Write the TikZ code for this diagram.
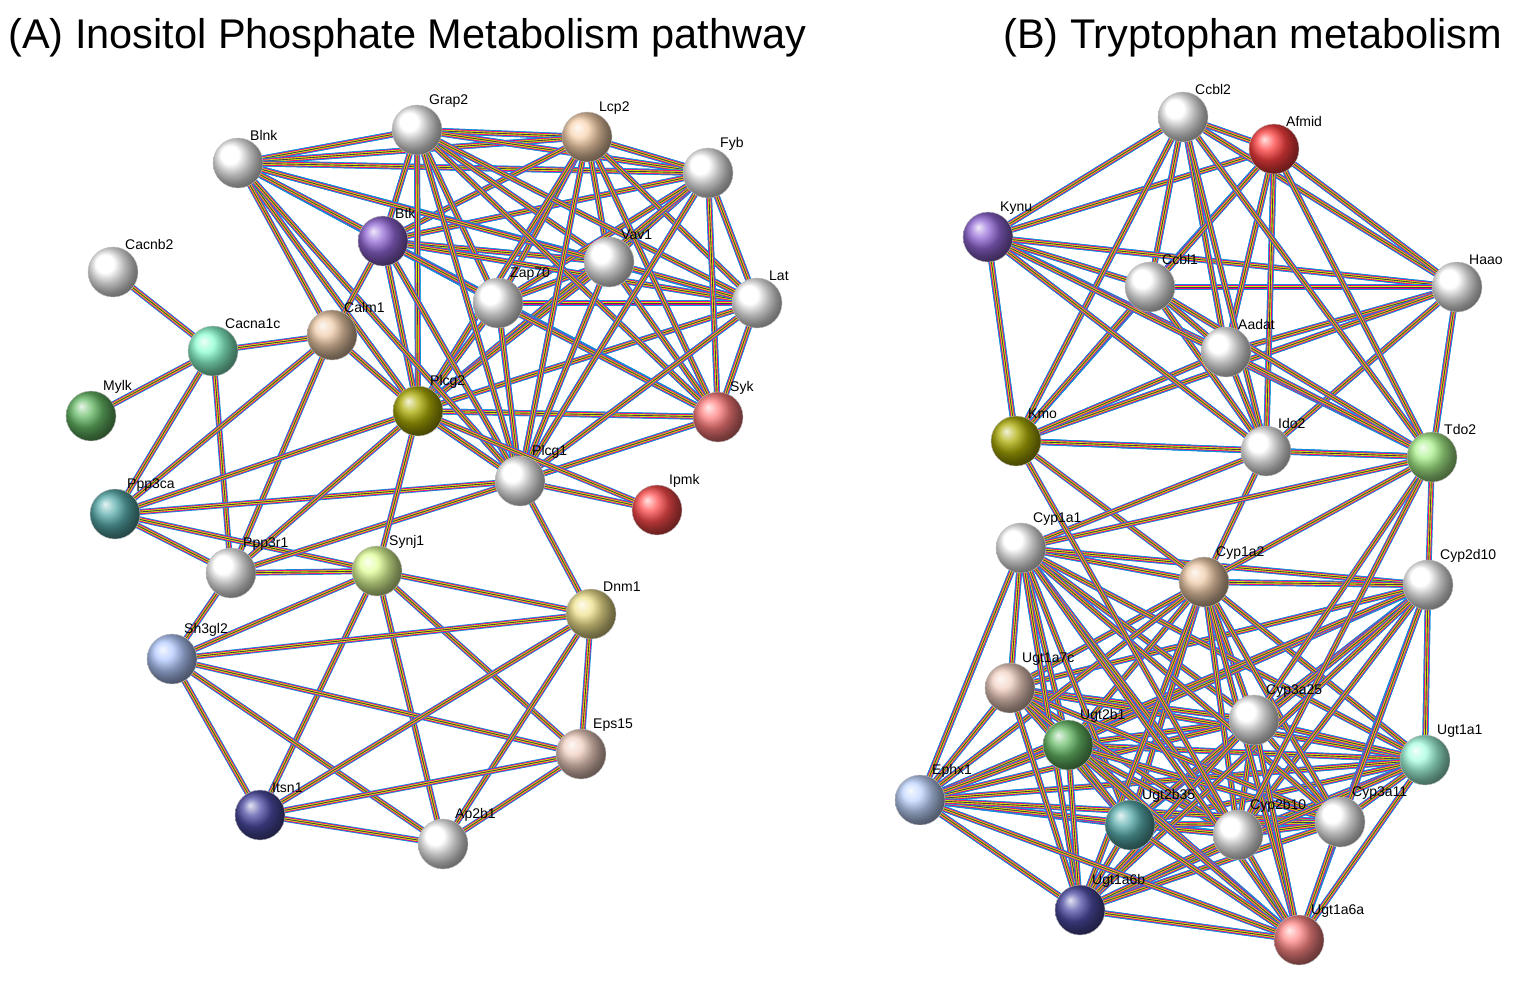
\documentclass[tikz,border=0pt]{standalone}
\usepackage{fontspec}
\setmainfont{Liberation Sans}
\begin{document}
\begin{tikzpicture}[x=1pt,y=-1pt,
 e/.style={draw=black!75,line width=0.9,
   preaction={draw=yellow!85!green,line width=2.6,
   preaction={draw=magenta,line width=4.3,
   preaction={draw=cyan!80!blue,line width=6}}}},
 ball/.style={circle,minimum size=50,inner sep=0,draw=black!25,line width=0.4},
 lab/.style={font=\fontsize{14}{14}\selectfont,anchor=south west,inner sep=0}]
\useasboundingbox (0,0) rectangle (1538,980);
\fill[white] (0,0) rectangle (1538,980);
\node[anchor=base west,inner sep=0,font=\fontsize{41.5}{41.5}\selectfont] (tA) at (8,48) {(A) Inositol Phosphate Metabolism pathway};
\node[anchor=base west,inner sep=0,font=\fontsize{41.5}{41.5}\selectfont] (tB) at (1003,48) {(B) Tryptophan metabolism};
\def\nodesA{Grap2/417/130/white,Lcp2/587/137/brown!30!orange!35,Blnk/238/163/white,Fyb/708/173/white,Btk/383/241/violet!55!blue!60,Vav1/609/262/white,Cacnb2/113/272/white,Zap70/498/303/white,Lat/757/303/white,Calm1/332/335/orange!35!brown!40,Cacna1c/213/351/green!40!cyan!45,Mylk/91/416/green!55!black!60,Plcg2/418/411/olive!65,Syk/718/417/red!35!pink,Plcg1/520/481/white,Ipmk/657/510/red!70,Ppp3ca/115/514/teal!65,Ppp3r1/231/573/white,Synj1/377/571/green!30!yellow!40,Dnm1/591/614/brown!45!yellow!50,Sh3gl2/172/659/cyan!30!blue!30,Eps15/581/754/red!25!brown!30,Itsn1/260/815/blue!50!black!70,Ap2b1/443/844/white}
\def\nodesB{Ccbl2/1183/117/white,Afmid/1274/149/red!75,Kynu/988/237/violet!55!blue!60,Ccbl1/1150/287/white,Haao/1457/287/white,Aadat/1226/352/white,Kmo/1016/441/olive!65,Ido2/1266/451/white,Tdo2/1432/457/olive!30!green!40,Cyp1a1/1021/548/white,Cyp1a2/1204/582/orange!35!brown!40,Cyp2d10/1428/585/white,Ugt1a7c/1010/688/red!25!brown!30,Cyp3a25/1254/720/white,Ugt2b1/1068/745/green!55!black!60,Ugt1a1/1425/760/green!35!cyan!35,Ephx1/920/800/cyan!35!blue!25,Ugt2b35/1130/825/teal!65,Cyp2b10/1238/835/white,Cyp3a11/1340/822/white,Ugt1a6b/1080/910/blue!50!black!70,Ugt1a6a/1299/940/red!30!pink}
\foreach \n/\x/\y/\c in \nodesA {\coordinate (\n) at (\x,\y);}
\foreach \n/\x/\y/\c in \nodesB {\coordinate (\n) at (\x,\y);}
% A edges
\foreach \a in {Grap2,Lcp2,Blnk,Fyb,Btk,Vav1,Zap70,Lat,Plcg2,Syk,Plcg1}{
 \foreach \b in {Grap2,Lcp2,Blnk,Fyb,Btk,Vav1,Zap70,Lat,Plcg2,Syk,Plcg1}{
  \ifx\a\b\else\draw[e] (\a) -- (\b);\fi}}
\foreach \a/\b in {Cacnb2/Cacna1c,Mylk/Cacna1c,Cacna1c/Calm1,Cacna1c/Ppp3ca,Cacna1c/Ppp3r1,Calm1/Ppp3ca,Calm1/Ppp3r1,Calm1/Plcg2,Calm1/Btk,Ppp3ca/Ppp3r1,Ppp3ca/Plcg2,Ppp3ca/Plcg1,Ppp3ca/Synj1,Ppp3r1/Plcg2,Ppp3r1/Plcg1,Ppp3r1/Synj1,Ppp3r1/Sh3gl2,Plcg1/Ipmk,Plcg2/Ipmk,Plcg1/Dnm1,Plcg2/Synj1,Synj1/Dnm1,Synj1/Sh3gl2,Synj1/Eps15,Synj1/Itsn1,Synj1/Ap2b1,Sh3gl2/Dnm1,Sh3gl2/Eps15,Sh3gl2/Itsn1,Sh3gl2/Ap2b1,Dnm1/Eps15,Dnm1/Itsn1,Dnm1/Ap2b1,Eps15/Itsn1,Eps15/Ap2b1,Itsn1/Ap2b1,Blnk/Calm1}
 {\draw[e] (\a) -- (\b);}
% B edges
\foreach \a in {Ccbl2,Afmid,Kynu,Ccbl1,Haao,Aadat,Kmo,Ido2,Tdo2}{
 \foreach \b in {Ccbl2,Afmid,Kynu,Ccbl1,Haao,Aadat,Kmo,Ido2,Tdo2}{
  \ifx\a\b\else\draw[e] (\a) -- (\b);\fi}}
\foreach \a in {Cyp1a1,Cyp1a2,Cyp2d10,Ugt1a7c,Cyp3a25,Ugt2b1,Ugt1a1,Ephx1,Ugt2b35,Cyp2b10,Cyp3a11,Ugt1a6b,Ugt1a6a}{
 \foreach \b in {Cyp1a1,Cyp1a2,Cyp2d10,Ugt1a7c,Cyp3a25,Ugt2b1,Ugt1a1,Ephx1,Ugt2b35,Cyp2b10,Cyp3a11,Ugt1a6b,Ugt1a6a}{
  \ifx\a\b\else\draw[e] (\a) -- (\b);\fi}}
\foreach \a/\b in {Kmo/Cyp1a2,Ido2/Cyp1a1,Ido2/Cyp1a2,Tdo2/Cyp1a2,Tdo2/Cyp1a1,Tdo2/Cyp2d10,Tdo2/Cyp3a25,Tdo2/Cyp2b10,Kmo/Cyp2b10}
 {\draw[e] (\a) -- (\b);}
\foreach \n/\x/\y/\c in \nodesA {
 \node[ball,ball color=\c] (\n-b) at (\n) {};
 \node[lab] (\n-l) at (\x+12,\y-22) {\n};}
\foreach \n/\x/\y/\c in \nodesB {
 \node[ball,ball color=\c] (\n-b) at (\n) {};
 \node[lab] (\n-l) at (\x+12,\y-22) {\n};}
\end{tikzpicture}
\end{document}
